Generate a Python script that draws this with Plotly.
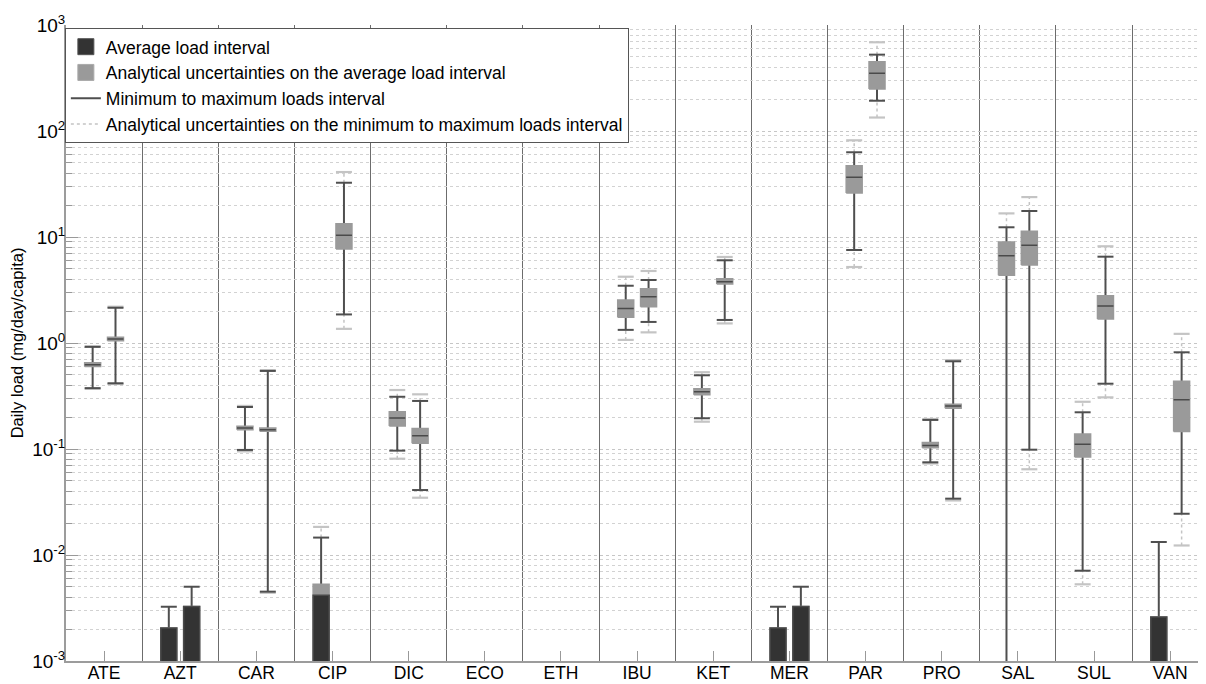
import plotly.graph_objects as go

categories = ["ATE", "AZT", "CAR", "CIP", "DIC", "ECO", "ETH", "IBU",
              "KET", "MER", "PAR", "PRO", "SAL", "SUL", "VAN"]

BELOW = 1e-4  # value lying below the visible axis (1e-3)

# ---- left series of each category ----
avg_lo_1 = [0.624, BELOW, 0.158, BELOW, 0.196, None, None, 2.12, 0.347, BELOW, 36.6, 0.108, 6.66, 0.1107, BELOW]
avg_hi_1 = [0.624, 0.00205, 0.158, 0.00417, 0.196, None, None, 2.12, 0.347, 0.00205, 36.6, 0.108, 6.66, 0.1107, 0.0026]
unc_lo_1 = [0.600, BELOW, 0.152, BELOW, 0.165, None, None, 1.75, 0.325, BELOW, 26.0, 0.103, 4.35, 0.084, BELOW]
unc_hi_1 = [0.650, 0.00205, 0.164, 0.0053, 0.225, None, None, 2.55, 0.370, 0.00205, 47.1, 0.115, 8.97, 0.1385, 0.0026]
min_1 = [0.375, BELOW, 0.098, BELOW, 0.0965, None, None, 1.33, 0.195, BELOW, 7.54, 0.0749, BELOW, 0.00711, BELOW]
max_1 = [0.92, 0.00325, 0.249, 0.0146, 0.311, None, None, 3.47, 0.496, 0.00325, 63.0, 0.188, 12.35, 0.222, 0.01327]
min_unc_1 = [0.37, None, 0.095, None, 0.081, None, None, 1.07, 0.181, None, 5.21, 0.073, None, 0.00529, None]
max_unc_1 = [0.93, None, 0.255, 0.0184, 0.36, None, None, 4.22, 0.53, None, 81.7, 0.192, 16.7, 0.279, None]

# ---- right series of each category ----
avg_lo_2 = [1.09, BELOW, 0.152, 10.4, 0.1335, None, None, 2.73, 3.79, BELOW, 350, 0.255, 8.35, 2.23, 0.292]
avg_hi_2 = [1.09, 0.00326, 0.152, 10.4, 0.1335, None, None, 2.73, 3.79, 0.00326, 350, 0.255, 8.35, 2.23, 0.292]
unc_lo_2 = [1.05, BELOW, 0.147, 7.7, 0.113, None, None, 2.20, 3.60, BELOW, 249, 0.243, 5.44, 1.68, 0.146]
unc_hi_2 = [1.13, 0.00326, 0.158, 13.3, 0.156, None, None, 3.25, 4.04, 0.00326, 451, 0.264, 11.3, 2.79, 0.435]
min_2 = [0.417, BELOW, 0.00451, 1.86, 0.041, None, None, 1.58, 1.65, BELOW, 193, 0.034, 0.0985, 0.413, 0.0245]
max_2 = [2.15, 0.00502, 0.545, 32.5, 0.284, None, None, 3.93, 6.03, 0.00502, 525, 0.672, 17.6, 6.52, 0.817]
min_unc_2 = [0.41, None, 0.0044, 1.36, 0.0347, None, None, 1.26, 1.53, None, 134, 0.0327, 0.0644, 0.307, 0.0123]
max_unc_2 = [2.20, None, 0.555, 41.0, 0.328, None, None, 4.78, 6.48, None, 687, 0.69, 23.8, 8.17, 1.22]

series = [
    (-0.15, avg_lo_1, avg_hi_1, unc_lo_1, unc_hi_1, min_1, max_1, min_unc_1, max_unc_1),
    (0.15, avg_lo_2, avg_hi_2, unc_lo_2, unc_hi_2, min_2, max_2, min_unc_2, max_unc_2),
]
HALF = 0.105

DARK = "#333333"
GREY = "#9a9a9a"
WHISK = "#4f4f4f"
LIGHT = "#c4c4c4"

avg_x, avg_y = [], []
unc_x, unc_y = [], []
wh_x, wh_y = [], []
dot_x, dot_y = [], []
dcap_x, dcap_y = [], []


def rect(xs, ys, xc, lo, hi):
    xs += [xc - HALF, xc + HALF, xc + HALF, xc - HALF, xc - HALF, None]
    ys += [lo, lo, hi, hi, lo, None]


def hseg(xs, ys, xc, v):
    xs += [xc - HALF, xc + HALF, None]
    ys += [v, v, None]


for off, alo, ahi, ulo, uhi, mn, mx, mnu, mxu in series:
    for i in range(len(categories)):
        if ahi[i] is None:
            continue
        xc = i + off
        rect(avg_x, avg_y, xc, alo[i], ahi[i])
        rect(unc_x, unc_y, xc, ulo[i], uhi[i])
        wh_x += [xc, xc, None]
        wh_y += [mn[i], mx[i], None]
        hseg(wh_x, wh_y, xc, mn[i])
        hseg(wh_x, wh_y, xc, mx[i])
        if mnu[i] is not None:
            dot_x += [xc, xc, None]
            dot_y += [mnu[i], mn[i], None]
            hseg(dcap_x, dcap_y, xc, mnu[i])
        if mxu[i] is not None:
            dot_x += [xc, xc, None]
            dot_y += [mx[i], mxu[i], None]
            hseg(dcap_x, dcap_y, xc, mxu[i])

fig = go.Figure()
fig.add_trace(go.Scatter(x=dot_x, y=dot_y, mode="lines",
                         line=dict(color=LIGHT, width=1.5, dash="dot"),
                         name="Analytical uncertainties on the minimum to maximum loads interval",
                         legendrank=4))
fig.add_trace(go.Scatter(x=dcap_x, y=dcap_y, mode="lines",
                         line=dict(color=LIGHT, width=2.2),
                         showlegend=False, hoverinfo="skip"))
fig.add_trace(go.Scatter(x=wh_x, y=wh_y, mode="lines",
                         line=dict(color=WHISK, width=2),
                         name="Minimum to maximum loads interval", legendrank=3))
fig.add_trace(go.Scatter(x=unc_x, y=unc_y, mode="lines", fill="toself",
                         fillcolor=GREY, line=dict(color=GREY, width=1.5),
                         showlegend=False))
fig.add_trace(go.Scatter(x=avg_x, y=avg_y, mode="lines", fill="toself",
                         fillcolor=DARK, line=dict(color="#4a4a4a", width=1.5),
                         showlegend=False))
# legend entries (square swatches) for the two filled interval types
fig.add_trace(go.Scatter(x=[None], y=[None], mode="markers",
                         marker=dict(symbol="square", size=16, color=DARK,
                                     line=dict(color="#555555", width=1)),
                         name="Average load interval", legendrank=1))
fig.add_trace(go.Scatter(x=[None], y=[None], mode="markers",
                         marker=dict(symbol="square", size=16, color=GREY,
                                     line=dict(color="#aaaaaa", width=1)),
                         name="Analytical uncertainties on the average load interval",
                         legendrank=2))

n = len(categories)
minor_y = [m * 10 ** k for k in range(-3, 3) for m in range(2, 10)]
major_y = [10 ** k for k in range(-3, 4)]

# the page body adds an 8px offset: the figure is sized so that the plot area
# lands on x 66..1206, y 25..661 of the 1206x684 window
fig.update_layout(
    width=1198, height=676,
    margin=dict(l=58, r=0, t=17, b=23),
    paper_bgcolor="white", plot_bgcolor="white",
    font=dict(family="Liberation Sans, Arial, sans-serif", color="black"),
    showlegend=True,
    legend=dict(x=-0.001, y=0.9956, xanchor="left", yanchor="top",
                bgcolor="white", bordercolor="#555555", borderwidth=1,
                font=dict(size=17.5, family="Liberation Sans, Arial, sans-serif"),
                tracegroupgap=0, itemwidth=30),
    xaxis=dict(
        range=[-0.5, n - 0.53],
        tickmode="array", tickvals=list(range(n)), ticktext=categories,
        ticks="inside", ticklen=10, tickcolor="#999999", tickwidth=1,
        tickfont=dict(size=17.5),
        ticklabelstandoff=-5,
        showgrid=False, zeroline=False,
        showline=True, linecolor="#9c9c9c", linewidth=2,
        minor=dict(tickmode="array", tickvals=[i + 0.5 for i in range(n)],
                   showgrid=True, gridcolor="#6c6c6c", gridwidth=1, ticks=""),
        automargin=False,
    ),
    yaxis=dict(
        type="log", range=[-3, 3],
        tickmode="array", tickvals=major_y,
        ticktext=["10<sup>%d</sup>" % k for k in range(-3, 4)],
        tickfont=dict(size=19),
        ticks="inside", ticklen=12, tickcolor="#999999", tickwidth=1,
        ticklabelstandoff=-5,
        showgrid=True, gridcolor="#c6c6c6", griddash="dot", gridwidth=1,
        zeroline=False,
        showline=True, linecolor="#9c9c9c", linewidth=2,
        minor=dict(tickmode="array", tickvals=minor_y, ticks="inside",
                   ticklen=6, tickcolor="#999999",
                   showgrid=True, gridcolor="#d2d2d2", griddash="dot", gridwidth=1),
        title=dict(text="Daily load (mg/day/capita)", font=dict(size=16.5), standoff=4),
        automargin=False,
    ),
)

fig.write_html("out.html")
